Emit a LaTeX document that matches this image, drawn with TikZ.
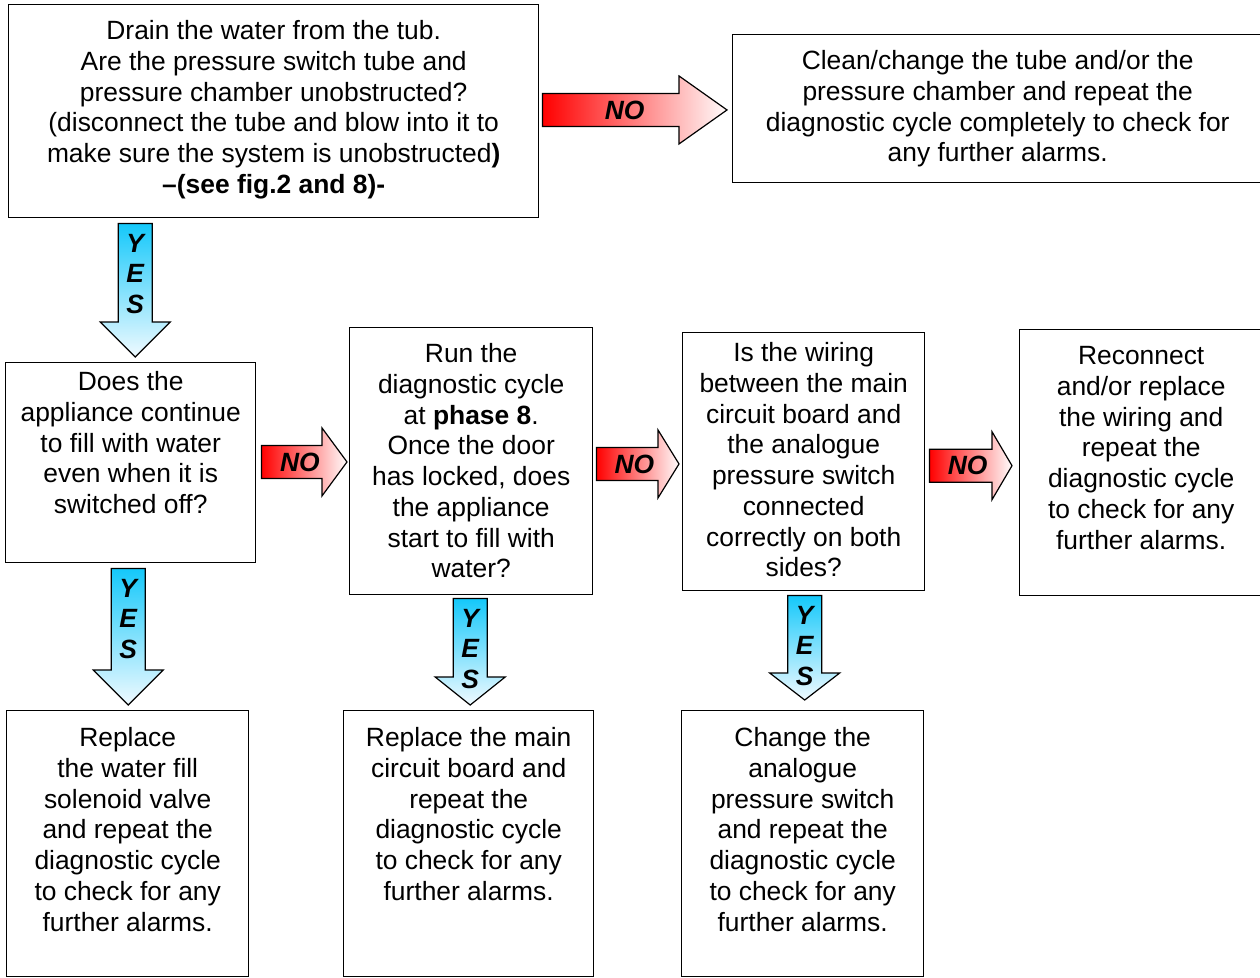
\documentclass[tikz,border=0pt]{standalone}
\usepackage{fontspec}
\setmainfont{Liberation Sans}
\usetikzlibrary{calc}

\definecolor{noRed}{RGB}{255,0,0}
\definecolor{noWhite}{RGB}{255,252,252}
\definecolor{yesCyan}{RGB}{20,200,250}
\definecolor{yesPale}{RGB}{240,250,255}

\tikzset{
  box/.style={draw=black, line width=1.4pt, inner sep=0pt, anchor=north west},
  boxtext/.style={anchor=north, align=center, inner sep=0pt,
    font=\fontsize{26.4}{30.7}\selectfont},
  arrowlabel/.style={inner sep=0pt, align=center,
    font=\fontsize{26.4}{30.7}\selectfont\bfseries\itshape},
  noshape/.style={draw=black, line width=1.2pt, left color=noRed, right color=noWhite},
  yesshape/.style={draw=black, line width=1.2pt, top color=yesCyan, bottom color=yesPale},
}

% Horizontal "NO" block arrow between two boxes
% #1 from, #2 to, #3 start gap, #4 tip gap, #5 head length, #6 downward offset, #7 label name
\newcommand\noarrow[7]{%
  \path[noshape] let \p1=(#1.east), \p2=(#2.west), \p3=($(\p1)!.5!(\p2)$) in
    (\x1+#3, \y3-#6+16.5pt) -- (\x2-#4-#5, \y3-#6+16.5pt) -- (\x2-#4-#5, \y3-#6+34pt)
    -- (\x2-#4, \y3-#6) -- (\x2-#4-#5, \y3-#6-34pt) -- (\x2-#4-#5, \y3-#6-16.5pt)
    -- (\x1+#3, \y3-#6-16.5pt) -- cycle;
  \path let \p1=(#1.east), \p2=(#2.west), \p3=($(\p1)!.5!(\p2)$) in
    node[arrowlabel] (#7) at ({(\x1+#3+\x2-#4)/2-#5/4+2pt}, \y3-#6) {NO};
}

% Vertical "YES" block arrow between two boxes
% #1 from, #2 to, #3 x offset, #4 top gap, #5 tip gap, #6 head length, #7 label name
\newcommand\yesarrow[7]{%
  \path[yesshape] let \p1=(#1.south), \p2=(#2.north) in
    (\x2+#3-17pt, \y1-#4) -- (\x2+#3+17pt, \y1-#4) -- (\x2+#3+17pt, \y2+#5+#6)
    -- (\x2+#3+35pt, \y2+#5+#6) -- (\x2+#3, \y2+#5) -- (\x2+#3-35pt, \y2+#5+#6)
    -- (\x2+#3-17pt, \y2+#5+#6) -- cycle;
  \path let \p1=(#1.south), \p2=(#2.north) in
    node[arrowlabel, anchor=north] (#7) at (\x2+#3, \y1-#4-10.5pt) {Y\\E\\S};
}

\begin{document}
\begin{tikzpicture}[x=1pt, y=-1pt]
\useasboundingbox (0,0) rectangle (1260,977);

% Boxes
\node[box, minimum width=530pt, minimum height=213pt] (b1) at (8,4) {};
\node[box, minimum width=530pt, minimum height=148pt] (b2) at (732,34) {};
\node[box, minimum width=250pt, minimum height=200pt] (b3) at (5,362) {};
\node[box, minimum width=243pt, minimum height=267pt] (b4) at (349,327) {};
\node[box, minimum width=242pt, minimum height=258pt] (b5) at (682,332) {};
\node[box, minimum width=243pt, minimum height=266pt] (b6) at (1019,329) {};
\node[box, minimum width=242pt, minimum height=266pt] (b7) at (6,710) {};
\node[box, minimum width=250pt, minimum height=266pt] (b8) at (343,710) {};
\node[box, minimum width=242pt, minimum height=266pt] (b9) at (681,710) {};

% Box texts
\node[boxtext, yshift=-16.5pt] (t1) at (b1.north) {Drain the water from the tub.\\
  Are the pressure switch tube and\\pressure chamber unobstructed?\\
  (disconnect the tube and blow into it to\\
  make sure the system is unobstructed\textbf{)}\\\textbf{–(see fig.2 and 8)-}};
\node[boxtext, yshift=-16.5pt] (t2) at (b2.north) {Clean/change the tube and/or the\\
  pressure chamber and repeat the\\diagnostic cycle completely to check for\\any further alarms.};
\node[boxtext, yshift=-9.5pt] (t3) at (b3.north) {Does the\\appliance continue\\
  to fill with water\\even when it is\\switched off?};
\node[boxtext, yshift=-16.5pt] (t4) at (b4.north) {Run the\\diagnostic cycle\\
  at \textbf{phase 8}.\\Once the door\\has locked, does\\the appliance\\start to fill with\\water?};
\node[boxtext, yshift=-10.5pt] (t5) at (b5.north) {Is the wiring\\between the main\\
  circuit board and\\the analogue\\pressure switch\\connected\\correctly on both\\sides?};
\node[boxtext, yshift=-17.5pt] (t6) at (b6.north) {Reconnect\\and/or replace\\
  the wiring and\\repeat the\\diagnostic cycle\\to check for any\\further alarms.};
\node[boxtext, yshift=-17.5pt] (t7) at (b7.north) {Replace\\the water fill\\
  solenoid valve\\and repeat the\\diagnostic cycle\\to check for any\\further alarms.};
\node[boxtext, yshift=-17.5pt] (t8) at (b8.north) {Replace the main\\circuit board and\\
  repeat the\\diagnostic cycle\\to check for any\\further alarms.};
\node[boxtext, yshift=-17.5pt] (t9) at (b9.north) {Change the\\analogue\\
  pressure switch\\and repeat the\\diagnostic cycle\\to check for any\\further alarms.};

% NO arrows
\noarrow{b1}{b2}{3pt}{5pt}{48pt}{0pt}{no1}
\noarrow{b3}{b4}{5pt}{2pt}{25pt}{0pt}{no2}
\noarrow{b4}{b5}{3pt}{3pt}{21pt}{2.5pt}{no3}
\noarrow{b5}{b6}{4pt}{7pt}{20pt}{3.5pt}{no4}

% YES arrows
\yesarrow{b1}{b3}{4.5pt}{5pt}{5pt}{35pt}{yes1}
\yesarrow{b3}{b7}{0.5pt}{5pt}{5pt}{35pt}{yes2}
\yesarrow{b4}{b8}{1.5pt}{3pt}{5pt}{28pt}{yes3}
\yesarrow{b5}{b9}{2pt}{4pt}{10pt}{27pt}{yes4}
\end{tikzpicture}
\end{document}
